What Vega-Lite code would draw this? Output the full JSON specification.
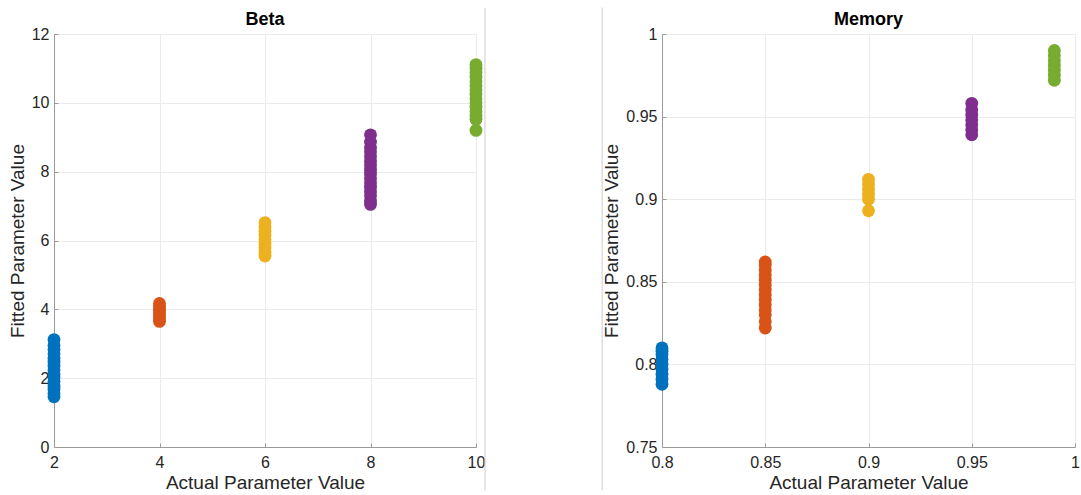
{
  "$schema": "https://vega.github.io/schema/vega-lite/v6.json",
  "background": "white",
  "padding": {"left": 8, "top": 7, "right": 5, "bottom": 5},
  "spacing": 186,
  "bounds": "flush",
  "config": {
    "view": {"stroke": null},
    "font": "Liberation Sans",
    "axis": {
      "labelFont": "Liberation Sans",
      "labelFontSize": 16,
      "labelColor": "#262626",
      "labelFlush": false,
      "labelOverlap": false,
      "titleFont": "Liberation Sans",
      "titleFontSize": 19,
      "titleFontWeight": "normal",
      "titleColor": "#262626",
      "domainColor": "#9a9a9a",
      "tickColor": "#9a9a9a",
      "tickSize": -4,
      "gridColor": "#ebebeb",
      "grid": true,
      "format": "~r"
    },
    "axisX": {"labelPadding": 11, "titlePadding": 3},
    "axisY": {"labelPadding": 9, "titlePadding": 4},
    "title": {"font": "Liberation Sans", "fontSize": 18, "fontWeight": "bold", "color": "#000000", "offset": -22, "anchor": "middle"}
  },
  "datasets": {
    "beta": [
      {"actual": 2, "fitted": 1.46}, {"actual": 2, "fitted": 1.55}, {"actual": 2, "fitted": 1.68},
      {"actual": 2, "fitted": 1.77}, {"actual": 2, "fitted": 1.9}, {"actual": 2, "fitted": 2.02},
      {"actual": 2, "fitted": 2.11}, {"actual": 2, "fitted": 2.24}, {"actual": 2, "fitted": 2.35},
      {"actual": 2, "fitted": 2.47}, {"actual": 2, "fitted": 2.58}, {"actual": 2, "fitted": 2.71},
      {"actual": 2, "fitted": 2.83}, {"actual": 2, "fitted": 2.95}, {"actual": 2, "fitted": 3.12},
      {"actual": 4, "fitted": 3.65}, {"actual": 4, "fitted": 3.74}, {"actual": 4, "fitted": 3.83},
      {"actual": 4, "fitted": 3.92}, {"actual": 4, "fitted": 4.0}, {"actual": 4, "fitted": 4.08},
      {"actual": 4, "fitted": 4.17},
      {"actual": 6, "fitted": 5.55}, {"actual": 6, "fitted": 5.66}, {"actual": 6, "fitted": 5.78},
      {"actual": 6, "fitted": 5.9}, {"actual": 6, "fitted": 6.02}, {"actual": 6, "fitted": 6.15},
      {"actual": 6, "fitted": 6.27}, {"actual": 6, "fitted": 6.4}, {"actual": 6, "fitted": 6.52},
      {"actual": 8, "fitted": 7.05}, {"actual": 8, "fitted": 7.15}, {"actual": 8, "fitted": 7.3},
      {"actual": 8, "fitted": 7.42}, {"actual": 8, "fitted": 7.55}, {"actual": 8, "fitted": 7.68},
      {"actual": 8, "fitted": 7.8}, {"actual": 8, "fitted": 7.93}, {"actual": 8, "fitted": 8.05},
      {"actual": 8, "fitted": 8.18}, {"actual": 8, "fitted": 8.3}, {"actual": 8, "fitted": 8.44},
      {"actual": 8, "fitted": 8.58}, {"actual": 8, "fitted": 8.7}, {"actual": 8, "fitted": 8.86},
      {"actual": 8, "fitted": 9.07},
      {"actual": 10, "fitted": 9.2}, {"actual": 10, "fitted": 9.52}, {"actual": 10, "fitted": 9.63},
      {"actual": 10, "fitted": 9.75}, {"actual": 10, "fitted": 9.88}, {"actual": 10, "fitted": 10.0},
      {"actual": 10, "fitted": 10.12}, {"actual": 10, "fitted": 10.25}, {"actual": 10, "fitted": 10.38},
      {"actual": 10, "fitted": 10.5}, {"actual": 10, "fitted": 10.62}, {"actual": 10, "fitted": 10.75},
      {"actual": 10, "fitted": 10.88}, {"actual": 10, "fitted": 11.0}, {"actual": 10, "fitted": 11.11}
    ],
    "memory": [
      {"actual": 0.8, "fitted": 0.788}, {"actual": 0.8, "fitted": 0.791}, {"actual": 0.8, "fitted": 0.794},
      {"actual": 0.8, "fitted": 0.797}, {"actual": 0.8, "fitted": 0.8}, {"actual": 0.8, "fitted": 0.803},
      {"actual": 0.8, "fitted": 0.806}, {"actual": 0.8, "fitted": 0.808}, {"actual": 0.8, "fitted": 0.81},
      {"actual": 0.85, "fitted": 0.822}, {"actual": 0.85, "fitted": 0.826}, {"actual": 0.85, "fitted": 0.83},
      {"actual": 0.85, "fitted": 0.833}, {"actual": 0.85, "fitted": 0.836}, {"actual": 0.85, "fitted": 0.839},
      {"actual": 0.85, "fitted": 0.842}, {"actual": 0.85, "fitted": 0.845}, {"actual": 0.85, "fitted": 0.848},
      {"actual": 0.85, "fitted": 0.851}, {"actual": 0.85, "fitted": 0.854}, {"actual": 0.85, "fitted": 0.857},
      {"actual": 0.85, "fitted": 0.86}, {"actual": 0.85, "fitted": 0.862},
      {"actual": 0.9, "fitted": 0.893}, {"actual": 0.9, "fitted": 0.9}, {"actual": 0.9, "fitted": 0.903},
      {"actual": 0.9, "fitted": 0.906}, {"actual": 0.9, "fitted": 0.909}, {"actual": 0.9, "fitted": 0.912},
      {"actual": 0.95, "fitted": 0.939}, {"actual": 0.95, "fitted": 0.942}, {"actual": 0.95, "fitted": 0.945},
      {"actual": 0.95, "fitted": 0.948}, {"actual": 0.95, "fitted": 0.951}, {"actual": 0.95, "fitted": 0.954},
      {"actual": 0.95, "fitted": 0.958},
      {"actual": 0.99, "fitted": 0.972}, {"actual": 0.99, "fitted": 0.975}, {"actual": 0.99, "fitted": 0.978},
      {"actual": 0.99, "fitted": 0.981}, {"actual": 0.99, "fitted": 0.984}, {"actual": 0.99, "fitted": 0.987},
      {"actual": 0.99, "fitted": 0.99}
    ]
  },
  "hconcat": [
    {
      "title": "Beta",
      "width": 422,
      "height": 413,
      "layer": [
        {
          "data": {"name": "beta"},
          "mark": {"type": "circle", "size": 165, "opacity": 1},
          "encoding": {
            "x": {"field": "actual", "type": "quantitative", "title": "Actual Parameter Value",
                  "scale": {"domain": [2, 10], "nice": false, "zero": false},
                  "axis": {"values": [2, 4, 6, 8, 10]}},
            "y": {"field": "fitted", "type": "quantitative", "title": "Fitted Parameter Value",
                  "scale": {"domain": [0, 12], "nice": false, "zero": false},
                  "axis": {"values": [0, 2, 4, 6, 8, 10, 12]}},
            "color": {"field": "actual", "type": "ordinal", "legend": null,
                      "scale": {"range": ["#0072BD", "#D95319", "#EDB120", "#7E2F8E", "#77AC30"]}}
          }
        },
        {
          "data": {"values": [{}]},
          "mark": {"type": "rule", "color": "#cdcdcd", "strokeWidth": 1},
          "encoding": {
            "x": {"datum": 10.17, "type": "quantitative"},
            "y": {"datum": -1.26, "type": "quantitative"},
            "y2": {"datum": 12.76}
          }
        }
      ]
    },
    {
      "title": "Memory",
      "width": 413,
      "height": 413,
      "layer": [
        {
          "data": {"name": "memory"},
          "mark": {"type": "circle", "size": 165, "opacity": 1},
          "encoding": {
            "x": {"field": "actual", "type": "quantitative", "title": "Actual Parameter Value",
                  "scale": {"domain": [0.8, 1], "nice": false, "zero": false},
                  "axis": {"values": [0.8, 0.85, 0.9, 0.95, 1]}},
            "y": {"field": "fitted", "type": "quantitative", "title": "Fitted Parameter Value",
                  "scale": {"domain": [0.75, 1], "nice": false, "zero": false},
                  "axis": {"values": [0.75, 0.8, 0.85, 0.9, 0.95, 1]}},
            "color": {"field": "actual", "type": "ordinal", "legend": null,
                      "scale": {"range": ["#0072BD", "#D95319", "#EDB120", "#7E2F8E", "#77AC30"]}}
          }
        },
        {
          "data": {"values": [{}]},
          "mark": {"type": "rule", "color": "#cdcdcd", "strokeWidth": 1},
          "encoding": {
            "x": {"datum": 0.771, "type": "quantitative"},
            "y": {"datum": 0.7238, "type": "quantitative"},
            "y2": {"datum": 1.016}
          }
        }
      ]
    }
  ],
  "resolve": {"scale": {"color": "independent"}}
}
